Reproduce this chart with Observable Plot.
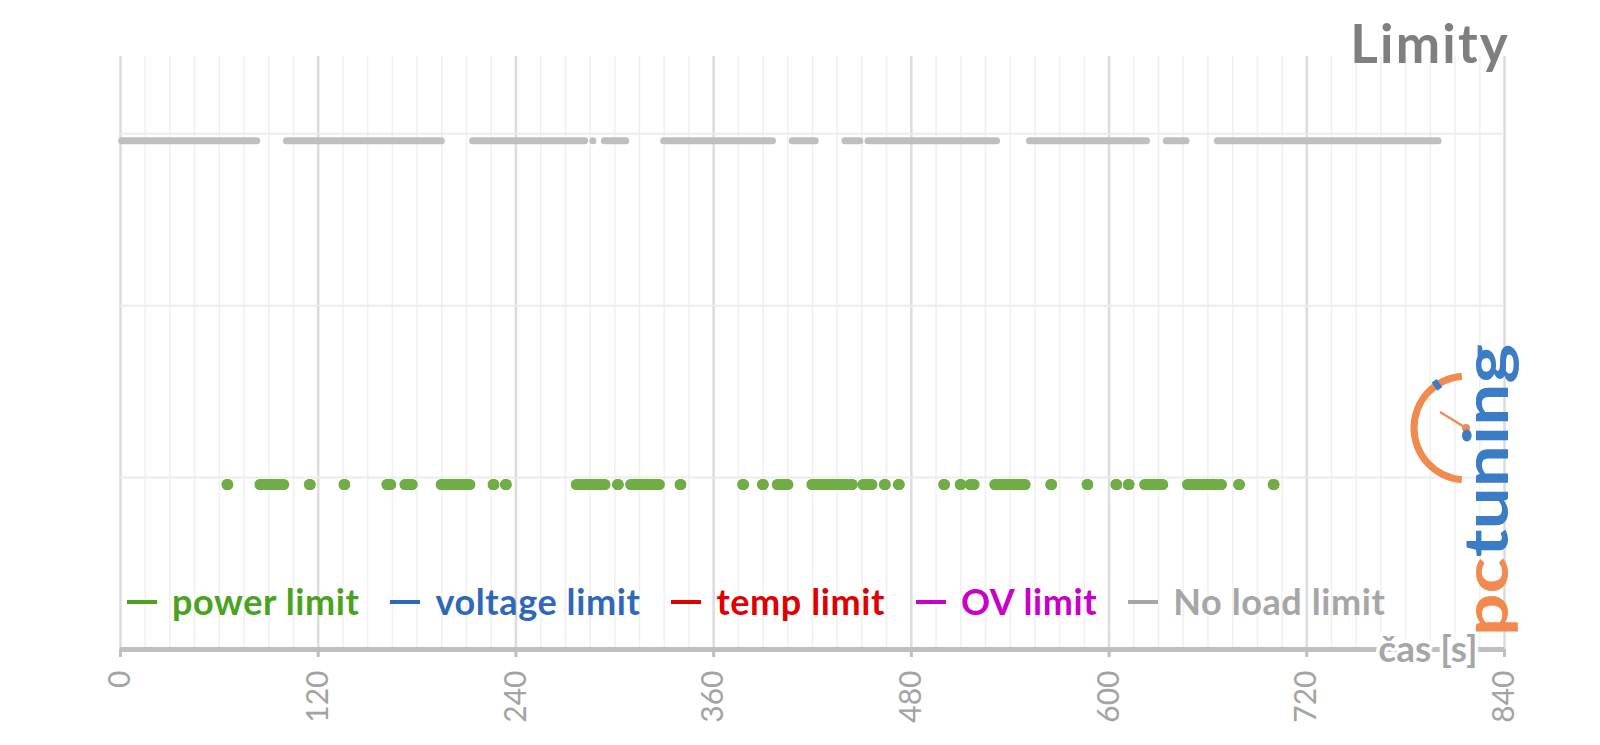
<!DOCTYPE html>
<html>
<head>
<meta charset="utf-8">
<script src="https://cdn.jsdelivr.net/npm/d3@7"></script>
<script src="https://cdn.jsdelivr.net/npm/@observablehq/plot@0.6"></script>
<style>
  body { margin: 0; background: #fff; }
  #wrap { position: relative; width: 1600px; height: 745px; overflow: hidden; font-family: Lato, "Open Sans", sans-serif; }
  #wrap svg { position: absolute; left: 0; top: 0; }
  #title { position: absolute; right: 90px; top: 16px; font-weight: bold; font-size: 53px; letter-spacing: 2.2px; line-height: 1; color: #7f7f7f; }
  #legend { position: absolute; left: 127px; top: 583px; display: flex; gap: 31px; font-weight: bold; font-size: 36px; letter-spacing: 0.6px; line-height: 1; white-space: nowrap; }
  #legend .item { display: flex; align-items: baseline; }
  #legend .sw { display: inline-block; width: 30px; height: 4px; margin-right: 15px; position: relative; top: -11px; }
</style>
</head>
<body>
<div id="wrap">
  <div id="title">Limity</div>
  <div id="legend"></div>
</div>
<script>
// ---- data (seconds) ----
const xTicks = [0, 120, 240, 360, 480, 600, 720, 840];
const yGrid = [1, 2, 3];
const seriesNames = ["power limit", "voltage limit", "temp limit", "OV limit", "No load limit"];
const seriesColors = ["#4aa21f", "#2f68b8", "#e00000", "#c800c8", "#a6a6a6"];

// "No load limit" level and active intervals
const noLoadLevel = 2.96;
const noLoadStart = [1, 101, 214, 287, 294, 330, 408, 440, 454, 552, 635, 666];
const noLoadEnd   = [83, 195, 282, 287, 307, 396, 422, 449, 532, 623, 647, 800];

// "power limit" level and active samples / runs
const powerLevel = 0.96;
const powerStart = [65, 85, 115, 136, 162, 173, 195, 226.5, 234, 277, 302, 310, 340, 378, 390, 399, 420, 444, 451, 464, 472.5, 500, 510, 516, 531, 565, 587, 604.5, 612, 622, 648, 668, 679, 700];
const powerEnd   = [65, 99, 115, 136, 164, 177, 212, 226.5, 234, 294, 302, 327, 340, 378, 390, 405, 441, 444, 456, 464, 472.5, 500, 510, 518, 549, 565, 587, 604.5, 612, 632.5, 665, 668, 679, 700];

const axisLabel = "čas [s]";

// ---- tables built from arrays ----
const noLoad = noLoadStart.map((s, i) => ({start: s, end: noLoadEnd[i], level: noLoadLevel}));
const power = powerStart.map((s, i) => ({start: s, end: powerEnd[i], level: powerLevel}));
const xMinor = d3.range(0, 841, 15);

const gray = "#bfbfbf";
const green = "#70ad47";

const chart = Plot.plot({
  width: 1600,
  height: 745,
  marginLeft: 120,
  marginRight: 96,
  marginTop: 56,
  marginBottom: 96,
  x: {domain: [0, 840]},
  y: {domain: [0, 3.45], axis: null},
  style: {fontFamily: "Lato, 'Open Sans', sans-serif", background: "transparent"},
  marks: [
    Plot.ruleX(xMinor, {stroke: "#f0f0f0", strokeWidth: 1.5}),
    Plot.ruleX(xTicks, {stroke: "#dcdcdc", strokeWidth: 2.5}),
    Plot.ruleY(yGrid, {stroke: "#ececec", strokeWidth: 2}),
    Plot.ruleY(noLoad, {x1: "start", x2: "end", y: "level", stroke: gray, strokeWidth: 7, strokeLinecap: "round"}),
    Plot.ruleY(power, {x1: "start", x2: "end", y: "level", stroke: green, strokeWidth: 11.2, strokeLinecap: "round"}),
    Plot.dot(power, {x: "start", y: "level", r: 5.6, fill: green}),
    Plot.dot(power, {x: "end", y: "level", r: 5.6, fill: green}),
    Plot.ruleY([0], {stroke: gray, strokeWidth: 5}),
    Plot.axisX(xTicks, {tickSize: 8, text: null, stroke: gray, strokeWidth: 3, label: null}),
    Plot.axisX(xTicks, {tickSize: 0, tickPadding: 21, tickRotate: -90, fill: "#a3a3a3", fontSize: 30, label: null, tickFormat: d => String(d)}),
    Plot.text([axisLabel], {frameAnchor: "bottom-right", dx: -27, dy: 1, textAnchor: "end", lineAnchor: "middle", fontSize: 37, fontWeight: "bold", fill: "#a6a6a6", stroke: "white", strokeWidth: 7})
  ]
});

const wrap = document.getElementById("wrap");
wrap.insertBefore(chart, wrap.firstChild);

// legend
const legend = d3.select("#legend");
seriesNames.forEach((n, i) => {
  const it = legend.append("div").attr("class", "item").style("color", seriesColors[i]);
  it.append("span").attr("class", "sw").style("background", seriesColors[i]);
  it.append("span").text(n);
});

// pctuning logo (decoration)
const svg = d3.select(chart);
const g = svg.append("g").attr("text-anchor", "start");
const orange = "#f28a4f", blue = "#3b7cc7";
const cx = 1466, cy = 428, R = 52;
const arc = d3.arc()({innerRadius: R - 3.5, outerRadius: R + 3.5, startAngle: -3.06, endAngle: -0.08});
g.append("path").attr("d", arc).attr("transform", `translate(${cx},${cy})`).attr("fill", orange);
g.append("line").attr("x1", cx).attr("y1", cy).attr("x2", 1440).attr("y2", 412).attr("stroke", orange).attr("stroke-width", 2.5);
g.append("circle").attr("cx", cx).attr("cy", cy).attr("r", 4).attr("fill", orange);
g.append("rect").attr("x", -3).attr("y", -R - 5).attr("width", 6).attr("height", 10).attr("fill", blue)
  .attr("transform", `translate(${cx},${cy}) rotate(-34)`);
const t = g.append("text").attr("transform", "translate(1508,636) rotate(-90)")
  .attr("text-anchor", "start")
  .attr("font-family", "Lato, sans-serif").attr("font-weight", "bold").attr("font-size", 62)
  .attr("textLength", 292).attr("lengthAdjust", "spacingAndGlyphs");
t.append("tspan").attr("fill", orange).text("pc");
t.append("tspan").attr("fill", blue).text("tuning");
</script>
</body>
</html>
